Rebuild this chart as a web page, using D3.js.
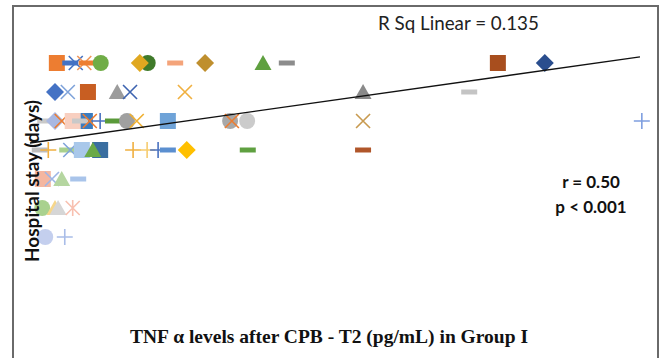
<!DOCTYPE html>
<html>
<head>
<meta charset="utf-8">
<script src="https://cdn.jsdelivr.net/npm/d3@7"></script>
<style>
  html, body { margin: 0; padding: 0; background: #fff; }
  svg { display: block; }
</style>
</head>
<body>
<div id="chart"></div>
<script>
// TNF alpha at T2 (pg/mL) vs hospital stay (days), one point per patient
const tnfValues = [
  // stay 10
  4.4, 6.6, 7.5, 8.9, 9.3, 11.6, 19.3, 18.0, 23.8, 28.7, 38.2, 42.1, 76.7, 84.4,
  // stay 9
  4.1, 6.2, 9.5, 14.3, 16.4, 25.4, 54.6, 72.0,
  // stay 8
  2.5, 4.1, 5.2, 9.0, 7.0, 8.2, 9.8, 11.5, 13.6, 15.9, 17.5, 22.6, 32.8, 33.1, 35.6, 54.6, 100.3,
  // stay 7
  1.6, 3.0, 6.1, 6.6, 8.5, 11.5, 10.3, 16.9, 19.2, 21.0, 22.6, 25.7, 35.7, 54.6,
  // stay 6
  2.1, 3.6, 5.2, 7.9,
  // stay 5
  2.0, 4.1, 4.6, 7.0,
  // stay 4
  2.5, 5.7
];
const stayValues = [
  10, 10, 10, 10, 10, 10, 10, 10, 10, 10, 10, 10, 10, 10,
  9, 9, 9, 9, 9, 9, 9, 9,
  8, 8, 8, 8, 8, 8, 8, 8, 8, 8, 8, 8, 8, 8, 8, 8, 8,
  7, 7, 7, 7, 7, 7, 7, 7, 7, 7, 7, 7, 7, 7,
  6, 6, 6, 6,
  5, 5, 5, 5,
  4, 4
];

// Excel style per point series: [marker, colour]
const pointStyles = [
  ["square", "#ED7D31"], ["dash", "#4472C4"], ["x", "#4472C4"], ["x", "#F1975A"], ["dash", "#ED7D31"],
  ["circle", "#70AD47"], ["circle", "#3F7A2A"], ["diamond", "#E0A820"], ["dash", "#F4A47A"],
  ["diamond", "#BF8F2E"], ["triangle", "#5FA040"], ["dash", "#8C8C8C"], ["square", "#A84E1E"],
  ["diamond", "#2A4E8E"],

  ["diamond", "#4472C4"], ["x", "#7FA3DA"], ["square", "#C85E22"], ["triangle", "#9C9C9C"],
  ["x", "#3E64B0"], ["x", "#F0B040"], ["triangle", "#8A8A8A"], ["dash", "#C4C4C4"],

  ["dash", "#C9C9C9"], ["diamond", "#A9B8E2"], ["x", "#ED7D31"], ["square", "#3A7CC0"],
  ["square", "#F8CFC0"], ["dash", "#C9C9C9"], ["x", "#ED7D31"], ["plus", "#4A72C0"],
  ["dash", "#5A9A3A"], ["circle", "#A0A0A0"], ["x", "#F0B030"], ["square", "#6FA3D8"],
  ["circle", "#A8A8A8"], ["x", "#ED7D31"], ["circle", "#CBCBCB"], ["x", "#C89A50"],
  ["plus", "#7F9FE0"],

  ["dash", "#BDBDBD"], ["plus", "#F0B040"], ["dash", "#A9D18E"], ["x", "#7FA3DA"],
  ["square", "#A9C8EA"], ["square", "#3A6EA0"], ["triangle", "#6AAA48"], ["plus", "#F0B040"],
  ["plus", "#F6CC70"], ["plus", "#4A72C0"], ["dash", "#5B8FD0"], ["diamond", "#FFC000"],
  ["dash", "#5FA040"], ["dash", "#B0562A"],

  ["square", "#F4B6A0"], ["x", "#9DB5E6"], ["triangle", "#B5D6A0"], ["dash", "#A9C4EA"],

  ["circle", "#A9D18E"], ["triangle", "#F6D68A"], ["triangle", "#D6D6D6"], ["star", "#F8C0B0"],

  ["circle", "#C4CFEE"], ["plus", "#A9BDE8"]
];

// regression line
const fitIntercept = 7.24;
const fitSlope = 0.0297;
const rSqLabel = "R Sq Linear = 0.135";
const statLabels = ["r = 0.50", "p < 0.001"];
const xTitle = "TNF α levels after CPB - T2 (pg/mL) in Group I";
const yTitle = "Hospital stay (days)";

const width = 659, height = 358;

const svg = d3.select("#chart").append("svg")
  .attr("width", width)
  .attr("height", height);

const x = d3.scaleLinear().domain([0, 100]).range([30, 640]);
const y = d3.scaleLinear().domain([4, 10]).range([237, 63]);

// frame
svg.append("rect")
  .attr("x", 13).attr("y", 6)
  .attr("width", 645).attr("height", 370)
  .attr("fill", "none")
  .attr("stroke", "#6a6a6a")
  .attr("stroke-width", 2);

function markerPath(shape) {
  switch (shape) {
    case "square": return "M-8,-8H8V8H-8Z";
    case "diamond": return "M0,-9L9,0L0,9L-9,0Z";
    case "triangle": return "M0,-8L8.5,7H-8.5Z";
    case "circle": return d3.symbol(d3.symbolCircle, 200)();
    case "dash": return "M-8,-2.5H8V2.5H-8Z";
    case "x": return "M-7,-7L7,7M-7,7L7,-7";
    case "plus": return "M-8,0H8M0,-8V8";
    case "star": return "M-7,-7L7,7M-7,7L7,-7M0,-8V8";
  }
}
const stroked = s => s === "x" || s === "plus" || s === "star";

const points = tnfValues.map((v, i) => ({ tnf: v, stay: stayValues[i], shape: pointStyles[i][0], color: pointStyles[i][1] }));

svg.append("g")
  .selectAll("path")
  .data(points)
  .join("path")
    .attr("transform", d => `translate(${x(d.tnf)},${y(d.stay)})`)
    .attr("d", d => markerPath(d.shape))
    .attr("fill", d => stroked(d.shape) ? "none" : d.color)
    .attr("stroke", d => stroked(d.shape) ? d.color : "none")
    .attr("stroke-width", 1.6);

// linear fit
const fitDomain = [0, 100];
svg.append("line")
  .attr("x1", x(fitDomain[0])).attr("y1", y(fitIntercept + fitSlope * fitDomain[0]))
  .attr("x2", x(fitDomain[1])).attr("y2", y(fitIntercept + fitSlope * fitDomain[1]))
  .attr("stroke", "#111")
  .attr("stroke-width", 1.4);

svg.append("text")
  .attr("x", 378).attr("y", 30)
  .style("font-family", "Lato, 'Open Sans', sans-serif")
  .style("font-size", "18.8px")
  .style("fill", "#222")
  .text(rSqLabel);

svg.append("g")
  .selectAll("text")
  .data(statLabels)
  .join("text")
    .attr("x", 591)
    .attr("y", (d, i) => 188 + i * 25)
    .attr("text-anchor", "middle")
    .style("font-family", "Lato, 'Open Sans', sans-serif")
    .style("font-weight", "bold")
    .style("font-size", "17px")
    .style("fill", "#111")
    .text(d => d);

svg.append("text")
  .attr("transform", "translate(39,181) rotate(-90)")
  .attr("text-anchor", "middle")
  .style("font-family", "Lato, 'Open Sans', sans-serif")
  .style("font-weight", "bold")
  .style("font-size", "19px")
  .style("fill", "#111")
  .text(yTitle);

svg.append("text")
  .attr("x", 329).attr("y", 343)
  .attr("text-anchor", "middle")
  .style("font-family", "'Liberation Serif', 'Times New Roman', serif")
  .style("font-weight", "bold")
  .style("font-size", "19.5px")
  .style("fill", "#111")
  .text(xTitle);
</script>
</body>
</html>
